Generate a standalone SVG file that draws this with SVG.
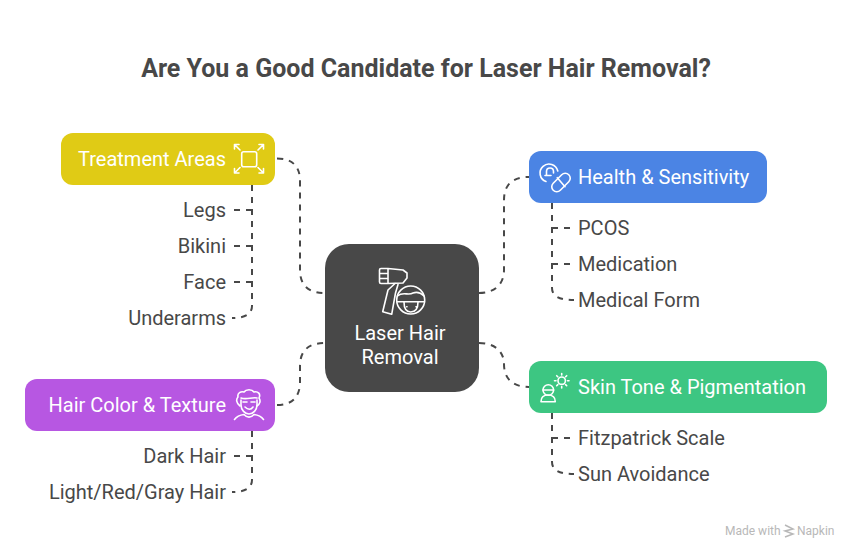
<svg xmlns="http://www.w3.org/2000/svg" width="852" height="552" viewBox="0 0 852 552">
<style>
text{font-family:Roboto,"Liberation Sans",sans-serif}
.t{font-size:25px;font-weight:700;fill:#484848;text-anchor:middle}
.n{font-size:20px;font-weight:400;fill:#fff}
.l{font-size:20px;fill:#484848}
.e{text-anchor:end}
.c{fill:none;stroke:#484848;stroke-width:2;stroke-dasharray:6 6}
.i{fill:none;stroke:#fff;stroke-width:1.6;stroke-linecap:round;stroke-linejoin:round}
</style>
<rect width="852" height="552" fill="#fff"/>
<text class="t" x="426" y="77">Are You a Good Candidate for Laser Hair Removal?</text>
<g id="connectors">
<path class="c" d="M277 158.500C292 158.500 300 166 300 181V270C300 285 308 293 325 293"/>
<path class="c" d="M277 405C292 405 300 397 300 382V366C300 351 308 343 325 343"/>
<path class="c" d="M479 293C494 293 504 285 504 270V200C504 185 512 177 529 177"/>
<path class="c" d="M479 343C494 343 504 351 504 364C504 378 512 387 529 387"/>
<path class="c" d="M252 185V306C252 314 245 318 232 318"/>
<path class="c" d="M252 210H232M252 246H232M252 282H232"/>
<path class="c" d="M552 203V288C552 296 559 300 574 300"/>
<path class="c" d="M552 228H574M552 264H574"/>
<path class="c" d="M552 413V462C552 470 559 474 574 474"/>
<path class="c" d="M552 438H574"/>
<path class="c" d="M252 431V480C252 488 245 492 232 492"/>
<path class="c" d="M252 456H232"/>
</g>
<g id="node-center">
<rect x="325" y="244" width="154" height="148" rx="24" fill="#484848"/>
<g class="i">
<path d="M388 268.500H381Q379.500 268.500 379.500 270V282Q379.500 283.500 381 283.500H388ZM379.500 273.500H388M379.500 278.500H388M388 268.500L403 270L407 273V278L403 283L388 283.500"/>
<path d="M395 283.500L388 290L382.700 311.700L391.700 314.300L395.500 293L398 284.500"/>
<circle cx="410.700" cy="300" r="14"/>
<path d="M397.500 296C403 291 408 296 413 293C417 291.500 421 293 424 296M397 301.700H424.500"/>
<path d="M404 302C404 309 407 312 410.700 312C415 312 418 309 418 302M406.700 306.700H407M416 306.700H416.300" />
</g>
<text class="n" x="400" y="340" text-anchor="middle">Laser Hair</text>
<text class="n" x="400" y="364" text-anchor="middle">Removal</text>
</g>
<g id="node-treatment">
<rect x="61" y="133" width="214" height="52" rx="12" fill="#e0cb15"/>
<text class="n" x="226" y="166" text-anchor="end">Treatment Areas</text>
<g class="i">
<rect x="241.700" y="151.700" width="15" height="15" rx="2"/>
<path d="M234.500 144.500L240 150M234.500 144.500V149M234.500 144.500H239M263.500 144.500L258 150M263.500 144.500V149M263.500 144.500H259M234.500 173L240 167.500M234.500 173V168.500M234.500 173H239M263.500 173L258 167.500M263.500 173V168.500M263.500 173H259"/>
</g>
</g>
<g id="node-hair">
<rect x="25" y="379" width="250" height="52" rx="12" fill="#b757e2"/>
<text class="n" x="226" y="412" text-anchor="end">Hair Color &amp; Texture</text>
<g class="i">
<path d="M240 406C236 403 236 399 238 397C237 393 241 391 244 392C246 389 252 389 254 392C258 391 261 394 259 398C261 401 260 404 257 406"/>
<path d="M241 398C246 400 252 397 257 398M241 400V405C241 410 245 414 249 414C253 414 257 410 257 405V400"/>
<path d="M243 402H247M251 402H255M245 407C248 410 251 410 253 407"/>
<path d="M234.500 419.500C237 416 240 415 244 414.500C247 418 251 418 254 414.500C258 415 261 416 263.500 419.500"/>
</g>
</g>
<g id="node-health">
<rect x="529" y="151" width="238" height="52" rx="12" fill="#4b84e4"/>
<text class="n" x="578" y="184">Health &amp; Sensitivity</text>
<g class="i">
<path d="M546 181.500A9 9 0 1 1 557.800 171"/>
<path d="M546.500 175V171.500C546.500 169.500 548 168 550 168C552 168 553.500 169.500 553.500 171.500V173M545 175.500H551"/>
<rect x="556" y="171.500" width="10" height="22" rx="5" transform="rotate(45 561 182.500)"/>
<path d="M557.300 177.700L565 186.700"/>
</g>
</g>
<g id="node-skin">
<rect x="529" y="361" width="298" height="52" rx="12" fill="#3dc682"/>
<text class="n" x="578" y="394">Skin Tone &amp; Pigmentation</text>
<g class="i">
<circle cx="548.300" cy="390" r="5.300"/>
<path d="M543 390H553.600M541 401.700C541 397 544 395 548 395C552 395 555.300 397 555.300 401.700Z"/>
<circle cx="561.700" cy="380.700" r="3.700"/>
<path d="M561.700 373.500V375M561.700 386.500V388M554.500 380.700H556M567.500 380.700H569M556.700 375.700L557.800 376.800M565.600 384.600L566.700 385.700M566.700 375.700L565.600 376.800M557.800 384.600L556.700 385.700"/>
</g>
</g>
<g id="leaves">
<text class="l e" x="226" y="217" text-anchor="end">Legs</text>
<text class="l e" x="226" y="253" text-anchor="end">Bikini</text>
<text class="l e" x="226" y="289" text-anchor="end">Face</text>
<text class="l e" x="226" y="325" text-anchor="end">Underarms</text>
<text class="l e" x="226" y="463" text-anchor="end">Dark Hair</text>
<text class="l e" x="226" y="499" text-anchor="end">Light/Red/Gray Hair</text>
<text class="l" x="578" y="235">PCOS</text>
<text class="l" x="578" y="271">Medication</text>
<text class="l" x="578" y="307">Medical Form</text>
<text class="l" x="578" y="445">Fitzpatrick Scale</text>
<text class="l" x="578" y="481">Sun Avoidance</text>
</g>
<g id="watermark">
<text x="725" y="535" font-size="12" fill="#b8b8b8">Made with</text>
<path d="M785 525L793 529L785 531L793 534L785 537" fill="none" stroke="#b8b8b8" stroke-width="1.500"/>
<text x="797" y="535" font-size="12" fill="#b8b8b8">Napkin</text>
</g>
</svg>
